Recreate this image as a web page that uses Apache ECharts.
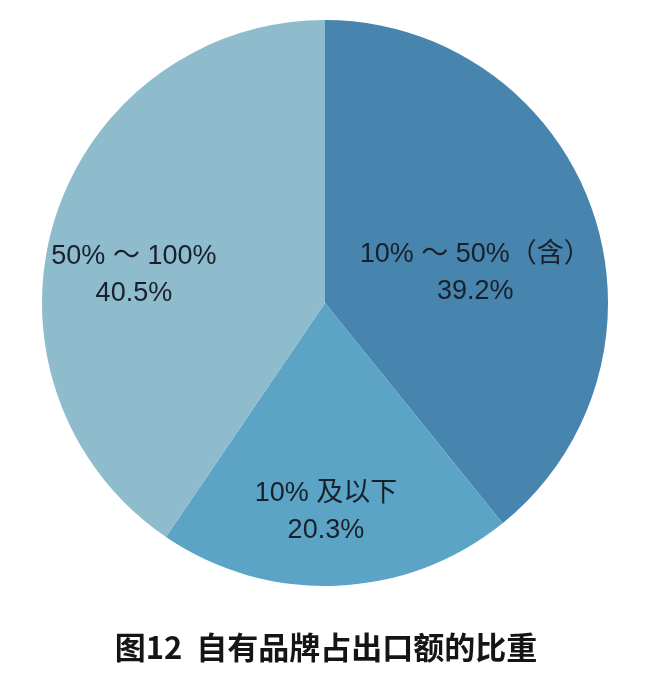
<!DOCTYPE html>
<html>
<head>
<meta charset="utf-8">
<script src="https://cdn.jsdelivr.net/npm/echarts@6/dist/echarts.min.js"></script>
<style>
html,body{margin:0;padding:0;background:#fff;}
#c{width:652px;height:682px;}
</style>
</head>
<body>
<div id="c"></div>
<script>
const categories = ['10% ～ 50%（含）', '10% 及以下', '50% ～ 100%'];
const values = [39.2, 20.3, 40.5];
const colors = ['#4784ae', '#5ba4c5', '#8ebccd'];
const labelOffsets = [[14, 18], [-5, 65], [-53, 15]];
const title = '图12  自有品牌占出口额的比重';

const chart = echarts.init(document.getElementById('c'));
chart.setOption({
  animation: false,
  title: {
    text: title,
    left: 'center',
    top: 627,
    textStyle: {fontFamily: '"Noto Sans CJK SC"', fontSize: 31, fontWeight: 'bold', color: '#151515'}
  },
  series: [{
    type: 'pie',
    center: [325, 303],
    radius: 283,
    startAngle: 90,
    clockwise: true,
    itemStyle: {borderWidth: 0},
    label: {
      position: 'inside',
      fontFamily: '"Liberation Sans", "Noto Sans CJK SC", sans-serif',
      fontSize: 27,
      lineHeight: 37,
      color: '#18202c',
      formatter: p => p.name + '\n' + p.value.toFixed(1) + '%'
    },
    labelLine: {show: false},
    data: categories.map((n, i) => ({
      name: n,
      value: values[i],
      itemStyle: {color: colors[i]},
      label: {offset: labelOffsets[i]}
    }))
  }]
});
</script>
</body>
</html>
